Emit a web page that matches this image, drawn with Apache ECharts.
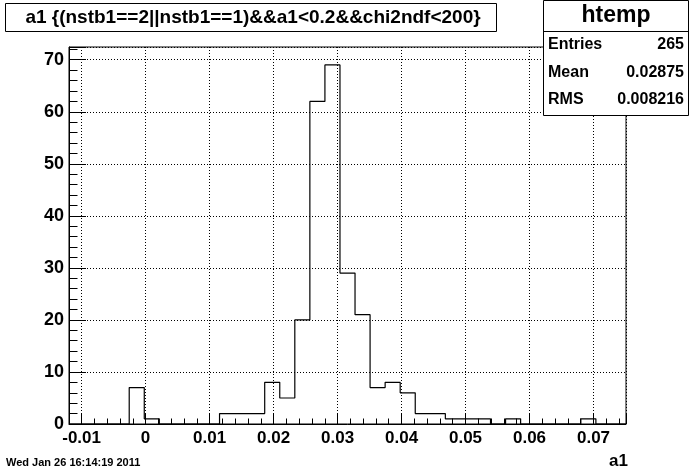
<!DOCTYPE html>
<html>
<head>
<meta charset="utf-8">
<script src="https://cdn.jsdelivr.net/npm/echarts@6/dist/echarts.min.js"></script>
<style>
html,body{margin:0;padding:0;background:#fff;}
#chart{width:696px;height:472px;}
</style>
</head>
<body>
<div id="chart"></div>
<script>
// ---- data ----
const titleText = 'a1 {(nstb1==2||nstb1==1)&&a1<0.2&&chi2ndf<200}';
const xAxisTitle = 'a1';
const dateText = 'Wed Jan 26 16:14:19 2011';
const statsName = 'htemp';
const statsLabels = ['Entries', 'Mean', 'RMS'];
const statsValues = ['265', '0.02875', '0.008216'];
const xMin = -0.01197;
const xMax = 0.07508;
const yMax = 72.45;
// bin contents (37 equal-width bins from xMin to xMax)
const counts = [0, 0, 0, 0, 7, 1, 0, 0, 0, 0,
                2, 2, 2, 8, 5, 20, 62, 69, 29, 21,
                7, 8, 6, 2, 2, 1, 1, 1, 0, 1,
                0, 0, 0, 0, 1, 0, 0];

const binW = (xMax - xMin) / counts.length;
const histData = counts.map((c, i) => [xMin + i * binW, c]);
histData.push([xMax, counts[counts.length - 1]]);

const FONT = "'Liberation Sans', Arial, sans-serif";
const chart = echarts.init(document.getElementById('chart'), null, {renderer: 'canvas'});

const fmtX = v => {
  if (Math.abs(v) < 1e-9) return '0';
  const r = Math.round(v * 100);
  if (Math.abs(v * 100 - r) > 1e-6) return '';
  return (r / 100).toString();
};
const fmtY = v => (Math.abs(v % 10) < 1e-6 ? String(Math.round(v)) : '');

const G = {left: 69, top: 47, width: 557, height: 377};

chart.setOption({
  animation: false,
  backgroundColor: '#fff',
  grid: Object.assign({show: true, borderColor: '#000', borderWidth: 1, backgroundColor: 'transparent', containLabel: false}, G),
  xAxis: [
    {
      type: 'value', min: xMin, max: xMax, position: 'bottom',
      minInterval: 0.01, maxInterval: 0.01,
      axisLine: {show: true, onZero: false, lineStyle: {color: '#000', width: 1}},
      axisTick: {show: true, inside: true, length: 11, lineStyle: {color: '#000', width: 1}},
      axisLabel: {show: true, margin: 6, formatter: fmtX, color: '#000', fontFamily: FONT, fontWeight: 'bold', fontSize: 17, showMinLabel: true, showMaxLabel: true},
      splitLine: {show: true, lineStyle: {color: '#000', type: [1, 2], width: 1}}
    },
    {
      type: 'value', min: xMin, max: xMax, position: 'bottom',
      minInterval: 0.002, maxInterval: 0.002,
      axisLine: {show: false, onZero: false},
      axisTick: {show: true, inside: true, length: 5.5, lineStyle: {color: '#000', width: 1}},
      axisLabel: {show: false},
      splitLine: {show: false}
    }
  ],
  yAxis: [
    {
      type: 'value', min: 0, max: yMax, position: 'left',
      minInterval: 10, maxInterval: 10,
      axisLine: {show: true, onZero: false, lineStyle: {color: '#000', width: 1}},
      axisTick: {show: true, inside: true, length: 17, lineStyle: {color: '#000', width: 1}},
      axisLabel: {show: true, margin: 5, formatter: fmtY, color: '#000', fontFamily: FONT, fontWeight: 'bold', fontSize: 18},
      splitLine: {show: true, lineStyle: {color: '#000', type: [1, 2], width: 1}}
    },
    {
      type: 'value', min: 0, max: yMax, position: 'left',
      minInterval: 2, maxInterval: 2,
      axisLine: {show: false, onZero: false},
      axisTick: {show: true, inside: true, length: 8.5, lineStyle: {color: '#000', width: 1}},
      axisLabel: {show: false},
      splitLine: {show: false}
    }
  ],
  series: [{
    type: 'line', xAxisIndex: 0, yAxisIndex: 0,
    step: 'end', symbol: 'none', data: histData,
    lineStyle: {color: '#000', width: 1.2}, z: 5
  }],
  graphic: [
    {type: 'rect', shape: {x: 5.5, y: 3.5, width: 491, height: 28}, style: {fill: '#fff', stroke: '#000', lineWidth: 1}, z: 10},
    {type: 'text', x: 253, y: 18, style: {text: titleText, fill: '#000', font: 'bold 19px ' + FONT, textAlign: 'center', textVerticalAlign: 'middle'}, z: 11},
    {type: 'rect', shape: {x: 543.5, y: 0.5, width: 145, height: 115}, style: {fill: '#fff', stroke: '#000', lineWidth: 1}, z: 10},
    {type: 'line', shape: {x1: 543.5, y1: 31.5, x2: 688.5, y2: 31.5}, style: {stroke: '#000', lineWidth: 1}, z: 11},
    {type: 'text', x: 616, y: 16, style: {text: statsName, fill: '#000', font: 'bold 23px ' + FONT, textAlign: 'center', textVerticalAlign: 'middle'}, z: 11},
    {type: 'text', x: 548, y: 45, style: {text: statsLabels[0], fill: '#000', font: 'bold 16px ' + FONT, textAlign: 'left', textVerticalAlign: 'middle'}, z: 11},
    {type: 'text', x: 548, y: 73, style: {text: statsLabels[1], fill: '#000', font: 'bold 16px ' + FONT, textAlign: 'left', textVerticalAlign: 'middle'}, z: 11},
    {type: 'text', x: 548, y: 100, style: {text: statsLabels[2], fill: '#000', font: 'bold 16px ' + FONT, textAlign: 'left', textVerticalAlign: 'middle'}, z: 11},
    {type: 'text', x: 684, y: 45, style: {text: statsValues[0], fill: '#000', font: 'bold 16px ' + FONT, textAlign: 'right', textVerticalAlign: 'middle'}, z: 11},
    {type: 'text', x: 684, y: 73, style: {text: statsValues[1], fill: '#000', font: 'bold 16px ' + FONT, textAlign: 'right', textVerticalAlign: 'middle'}, z: 11},
    {type: 'text', x: 684, y: 100, style: {text: statsValues[2], fill: '#000', font: 'bold 16px ' + FONT, textAlign: 'right', textVerticalAlign: 'middle'}, z: 11},
    {type: 'text', x: 628, y: 461, style: {text: xAxisTitle, fill: '#000', font: 'bold 17px ' + FONT, textAlign: 'right', textVerticalAlign: 'middle'}, z: 11},
    {type: 'text', x: 6, y: 463, style: {text: dateText, fill: '#000', font: 'bold 11px ' + FONT, textAlign: 'left', textVerticalAlign: 'middle'}, z: 11}
  ]
});
</script>
</body>
</html>
